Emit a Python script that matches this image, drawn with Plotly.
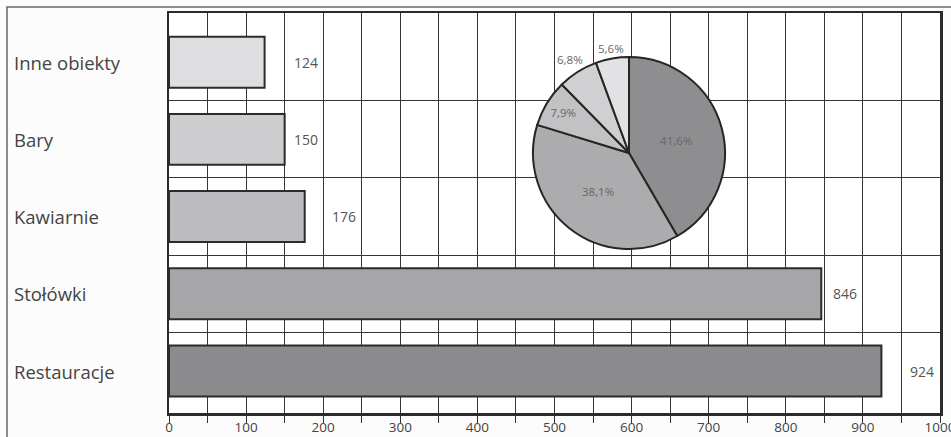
import math
import plotly.graph_objects as go

categories = ["Restauracje", "Stołówki", "Kawiarnie", "Bary", "Inne obiekty"]
values = [924, 846, 176, 150, 124]
bar_colors = ["#8b8b8d", "#a6a6a8", "#bcbcbe", "#cdcdcf", "#dedee0"]
pie_colors = ["#8e8e90", "#acacae", "#c2c2c4", "#d0d0d2", "#e2e2e4"]
pie_outside = [False, False, False, True, True]
x_tickvals = [0, 100, 200, 300, 400, 500, 600, 700, 800, 900, 1000]

W, H = 951, 437
ML, MR, MT, MB = 169, 11, 13, 24
PW, PH = W - ML - MR, H - MT - MB
FONT = "Open Sans"
PIE_FONT = dict(family=FONT, size=11.5, color="#666666")
GRID = "#353535"

n = len(categories)
ypos = list(range(n))
total = sum(values)
pct_text = [f"{v / total * 100:.1f}%".replace(".", ",") for v in values]

fig = go.Figure()

fig.add_trace(go.Bar(
    x=values, y=ypos, orientation="h", width=0.66,
    marker=dict(color=bar_colors, line=dict(color="#2b2b2b", width=2)),
    hoverinfo="skip", showlegend=False,
))

# pie centre (629,153) radius 96 in pixels
pcx, pcy, r = 629, 153, 96
cx, cy = (pcx - ML) / PW, (MT + PH - pcy) / PH
fig.add_trace(go.Pie(
    values=values, labels=categories, sort=False, direction="clockwise", rotation=0,
    marker=dict(colors=pie_colors, line=dict(color="#262626", width=2)),
    text=[("" if o else t) for o, t in zip(pie_outside, pct_text)],
    textinfo="text", textposition="inside",
    insidetextorientation="horizontal",
    textfont=PIE_FONT,
    domain=dict(x=[cx - r / PW, cx + r / PW], y=[cy - r / PH, cy + r / PH]),
    showlegend=False, hoverinfo="skip",
))

annotations = []
for i, (c, v) in enumerate(zip(categories, values)):
    annotations.append(dict(
        x=(12 - ML) / PW, xref="paper", y=i, yref="y", text=c, showarrow=False,
        xanchor="left", yanchor="middle",
        font=dict(family=FONT, size=18.5, color="#444444"),
    ))
    annotations.append(dict(
        x=math.ceil(v / 50) * 50, xref="x", y=i, yref="y", text=str(v), showarrow=False,
        xanchor="left", yanchor="middle", xshift=7,
        font=dict(family=FONT, size=14, color="#555555"),
    ))

# outside pie labels, placed just outside each slice at its mid-angle
cum = 0
hw, hh = 16, 7
for v, o, t in zip(values, pie_outside, pct_text):
    mid = (cum + v / 2) / total * 2 * math.pi
    cum += v
    if not o:
        continue
    s, c = math.sin(mid), math.cos(mid)
    d = r + hw * abs(s) + hh * abs(c)
    px, py = pcx + d * s, pcy - d * c
    annotations.append(dict(
        x=(px - ML) / PW, y=(MT + PH - py) / PH, xref="paper", yref="paper",
        text=t, showarrow=False, xanchor="center", yanchor="middle", font=PIE_FONT,
    ))

fig.update_layout(
    width=W, height=H,
    margin=dict(l=ML, r=MR, t=MT, b=MB, pad=0, autoexpand=False),
    paper_bgcolor="#fcfcfc", plot_bgcolor="#ffffff",
    separators=", ",
    font=dict(family=FONT, color="#444444"),
    annotations=annotations,
    shapes=[dict(
        type="rect", xref="paper", yref="paper",
        x0=(7 - ML) / PW, x1=1.2, y0=-0.3, y1=(MT + PH - 7) / PH,
        line=dict(color="#666666", width=1.5), fillcolor="rgba(0,0,0,0)", layer="below",
    )],
    xaxis=dict(
        range=[0, 1000], tickvals=x_tickvals, ticks="outside", ticklen=7,
        tickcolor="#333333", tickwidth=1, automargin=False, ticklabeloverflow="allow",
        ticklabelstandoff=-7,
        showgrid=True, gridcolor=GRID, gridwidth=1, zeroline=False,
        showline=True, mirror=True, linecolor="#2b2b2b", linewidth=2.5,
        tickfont=dict(family=FONT, size=13.5, color="#444444"),
        minor=dict(dtick=50, tick0=0, ticks="outside", ticklen=7, tickcolor="#333333",
                   tickwidth=1, showgrid=True, gridcolor=GRID, gridwidth=1),
        fixedrange=True,
    ),
    yaxis=dict(
        range=[-0.544, 4.637], tickvals=[i + 0.5 for i in range(n - 1)], automargin=False,
        showticklabels=False, ticks="", showgrid=True, gridcolor=GRID, gridwidth=1,
        zeroline=False, showline=True, mirror=True, linecolor="#2b2b2b", linewidth=2.5,
        fixedrange=True,
    ),
)

fig.write_html(
    "out.html",
    config={"displayModeBar": False, "staticPlot": True},
    post_script="document.body.style.margin='0';document.body.style.overflow='hidden';",
)
